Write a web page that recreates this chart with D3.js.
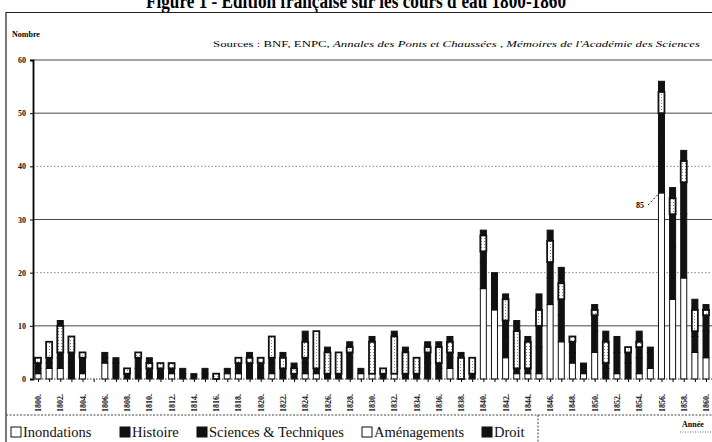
<!DOCTYPE html>
<html>
<head>
<meta charset="utf-8">
<script src="https://cdn.jsdelivr.net/npm/d3@7"></script>
<style>
  body { margin: 0; background: #fff; }
  svg { display: block; font-family: 'Liberation Serif', 'Times New Roman', serif; }
</style>
</head>
<body>
<svg id="chart"></svg>
<script>
const width = 712;
const height = 442;

// one value per year, 1800 -> 1860
const years = d3.range(1800, 1861);
const inondations =   [1,2,2,0,1,0,3,0,0,0,0,0,1,0,0,0,0,1,1,0,0,1,0,0,1,1,0,0,0,1,1,0,1,0,0,0,0,2,0,0,17,13,4,1,1,1,14,7,3,1,5,0,1,0,1,2,35,15,19,5,4];
const histoire =      [1,1,2,3,2,0,1,3,1,2,1,1,1,1,1,1,0,1,1,2,2,2,2,1,2,1,1,1,4,1,0,1,0,1,1,3,2,2,0,1,5,4,4,1,1,5,5,5,2,2,4,2,4,3,3,3,10,10,12,3,5];
const sciences =      [1,1,1,2,1,0,1,1,0,2,1,1,0,1,0,1,0,0,1,1,1,1,0,0,1,0,0,0,1,0,0,0,0,0,0,2,1,1,0,0,2,3,3,0,0,4,3,3,2,0,3,1,3,2,2,1,5,6,6,1,3];
const amenagements =  [1,3,5,3,1,0,0,0,1,1,1,1,1,0,0,0,1,0,1,1,1,4,2,1,3,7,4,4,1,0,6,1,7,4,3,1,3,2,4,3,3,0,4,7,5,3,4,3,1,0,1,4,0,1,1,0,4,3,4,4,1];
const droit =         [0,0,1,0,0,0,0,0,0,0,1,0,0,0,0,0,0,0,0,1,0,0,1,1,2,0,1,0,1,0,1,0,1,1,0,1,1,1,1,0,1,0,1,2,1,3,2,3,0,0,1,2,0,0,2,0,2,2,2,2,1];

const seriesNames = ['Inondations', 'Histoire', 'Sciences & Techniques', 'Aménagements', 'Droit'];
const seriesFills = ['#fff', '#111', '#111', 'url(#dots)', '#111'];
const yTicks = [0, 10, 20, 30, 40, 50, 60];

const table = years.map((y, i) => ({
  year: y,
  'Inondations': inondations[i],
  'Histoire': histoire[i],
  'Sciences & Techniques': sciences[i],
  'Aménagements': amenagements[i],
  'Droit': droit[i]
}));

const svg = d3.select('#chart')
  .attr('width', width)
  .attr('height', height);

const defs = svg.append('defs');
const pat = defs.append('pattern')
  .attr('id', 'dots')
  .attr('width', 3)
  .attr('height', 3)
  .attr('patternUnits', 'userSpaceOnUse');
pat.append('rect').attr('width', 3).attr('height', 3).attr('fill', '#fff');
pat.append('rect').attr('x', 1).attr('y', 1).attr('width', 1).attr('height', 1).attr('fill', '#888');

const x = d3.scalePoint()
  .domain(years)
  .range([38, 706]);

const y = d3.scaleLinear()
  .domain([0, 60])
  .range([379, 60]);

const barW = 6;

// title, cut by the top of the page as in the scan
svg.append('text')
  .attr('x', 356)
  .attr('y', 8)
  .attr('text-anchor', 'middle')
  .attr('font-size', 21)
  .attr('font-weight', 'bold')
  .attr('textLength', 420)
  .attr('lengthAdjust', 'spacingAndGlyphs')
  .text("Figure 1 - Édition française sur les cours d'eau 1800-1860");

// outer frame
svg.append('path')
  .attr('d', 'M6,442 V12.5 H712')
  .attr('fill', 'none')
  .attr('stroke', '#222')
  .attr('stroke-width', 1.2);

svg.append('text')
  .attr('x', 12)
  .attr('y', 37)
  .attr('font-size', 8)
  .attr('font-weight', 'bold')
  .text('Nombre');

const src = svg.append('text')
  .attr('x', 213)
  .attr('y', 47)
  .attr('font-size', 9)
  .attr('textLength', 487)
  .attr('lengthAdjust', 'spacingAndGlyphs');
src.append('tspan').text('Sources : BNF, ENPC, ');
src.append('tspan').attr('font-style', 'italic').text('Annales des Ponts et Chaussées');
src.append('tspan').text(' , ');
src.append('tspan').attr('font-style', 'italic').text("Mémoires de l'Académie des Sciences");

// gridlines
const dottedLines = [20, 40];
svg.append('g')
  .selectAll('line')
  .data(yTicks.filter(t => t > 0))
  .enter()
  .append('line')
    .attr('x1', 33)
    .attr('x2', 712)
    .attr('y1', d => y(d))
    .attr('y2', d => y(d))
    .attr('stroke', d => dottedLines.includes(d) ? '#666' : '#333')
    .attr('stroke-width', d => dottedLines.includes(d) ? 0.8 : 0.9)
    .attr('stroke-dasharray', d => dottedLines.includes(d) ? '1.5,2' : null);

// bars
const stack = d3.stack().keys(seriesNames);
const layers = stack(table);

svg.append('g')
  .selectAll('g')
  .data(layers)
  .enter()
  .append('g')
    .attr('fill', (d, i) => seriesFills[i])
  .selectAll('rect')
  .data(d => d.filter(v => v[1] > v[0]))
  .enter()
  .append('rect')
    .attr('x', d => x(d.data.year) - barW / 2)
    .attr('y', d => y(d[1]))
    .attr('width', barW)
    .attr('height', d => y(d[0]) - y(d[1]))
    .attr('stroke', '#111')
    .attr('stroke-width', function () {
      return d3.select(this.parentNode).datum().key === 'Aménagements' ? 1.8 : 1;
    });

// y axis
const yAxis = d3.axisLeft(y)
  .tickValues(yTicks)
  .tickSize(3)
  .tickPadding(4);

const gy = svg.append('g')
  .attr('transform', 'translate(33,0)')
  .call(yAxis);
gy.select('.domain').attr('stroke', '#000').attr('stroke-width', 1.8);
gy.selectAll('text')
  .attr('font-family', 'Liberation Serif, serif')
  .attr('font-size', 8)
  .attr('font-weight', 'bold')
  .attr('fill', '#111');

// x axis, a label every second year
const xAxis = d3.axisBottom(x)
  .tickSize(3)
  .tickFormat(d => d % 2 === 0 ? d + '.' : '');

const gx = svg.append('g')
  .attr('transform', 'translate(0,379)')
  .call(xAxis);
gx.select('.domain')
  .attr('d', 'M33,0 H712')
  .attr('stroke', '#333')
  .attr('stroke-dasharray', '1.5,1.5');
gx.selectAll('text')
  .attr('font-family', 'Liberation Serif, serif')
  .attr('font-size', 8)
  .attr('font-weight', 'bold')
  .attr('fill', '#111')
  .attr('text-anchor', 'start')
  .attr('dy', '0.32em')
  .attr('x', -28)
  .attr('y', 0)
  .attr('transform', 'translate(0,5) rotate(-90)');

// 85 note for 1856
svg.append('text')
  .attr('x', 636)
  .attr('y', 208)
  .attr('font-size', 8)
  .attr('font-weight', 'bold')
  .text('85');
svg.append('line')
  .attr('x1', 648)
  .attr('y1', 205)
  .attr('x2', x(1856) - 2)
  .attr('y2', y(inondations[56]))
  .attr('stroke', '#111')
  .attr('stroke-width', 1)
  .attr('stroke-dasharray', '2,2');

// separator and legend box
svg.append('line')
  .attr('x1', 6).attr('x2', 712)
  .attr('y1', 415).attr('y2', 415)
  .attr('stroke', '#444')
  .attr('stroke-dasharray', '2,1.5');
svg.append('line')
  .attr('x1', 538).attr('x2', 538)
  .attr('y1', 415).attr('y2', 442)
  .attr('stroke', '#444')
  .attr('stroke-dasharray', '2,1.5');

const legendX = [11, 120, 197, 362, 482];
const legendFill = ['#fff', '#111', '#111', '#fff', '#111'];
const legend = svg.append('g')
  .selectAll('g')
  .data(seriesNames)
  .enter()
  .append('g')
    .attr('transform', (d, i) => `translate(${legendX[i]},427)`);
legend.append('rect')
  .attr('width', 10)
  .attr('height', 10)
  .attr('fill', (d, i) => legendFill[i])
  .attr('stroke', '#111')
  .attr('stroke-width', 1);
legend.append('text')
  .attr('x', 12)
  .attr('y', 10)
  .attr('font-size', 14.5)
  .attr('fill', '#111')
  .text(d => d);

svg.append('text')
  .attr('x', 682)
  .attr('y', 427)
  .attr('font-size', 8)
  .attr('font-weight', 'bold')
  .text('Année');
svg.append('line')
  .attr('x1', 680).attr('x2', 712)
  .attr('y1', 432).attr('y2', 432)
  .attr('stroke', '#666')
  .attr('stroke-dasharray', '1,1.5');
</script>
</body>
</html>
